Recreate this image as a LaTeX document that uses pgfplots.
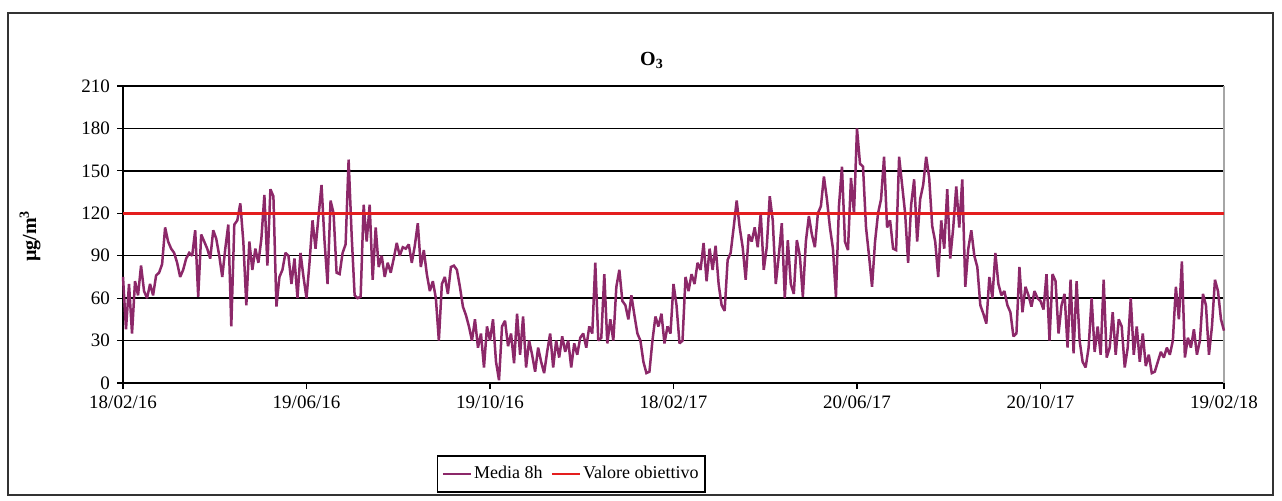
\documentclass[border=0pt]{standalone}
\usepackage{fontspec}
\setmainfont{Liberation Serif}
\usepackage{pgfplots}
\pgfplotsset{compat=1.18}

\definecolor{media}{RGB}{140,40,105}
\definecolor{obiettivo}{RGB}{228,30,30}

\begin{document}
\begin{tikzpicture}
% 1 px of the reference = 0.5pt
\useasboundingbox (0,0) rectangle (641pt,250pt);
\draw[black!80, line width=0.6pt] (4pt,2.5pt) rectangle (636.5pt,243.5pt);

\node[font=\fontsize{10}{12}\selectfont\bfseries] at (326pt,220pt) {O\textsubscript{3}};
\node[rotate=90, font=\fontsize{10}{12}\selectfont\bfseries] at (15pt,132pt) {µg/m\textsuperscript{3}};

\begin{axis}[
  at={(61.5pt,58.5pt)}, anchor=south west,
  scale only axis,
  width=550.5pt, height=148.5pt,
  xmin=0, xmax=732,
  ymin=0, ymax=210,
  ytick={0,30,...,210},
  xtick={0,122,244,366,488,610,732},
  xticklabels={18/02/16,19/06/16,19/10/16,18/02/17,20/06/17,20/10/17,19/02/18},
  axis x line*=bottom, axis y line*=left,
  axis line style={black, line width=0.8pt, -},
  tick align=outside,
  major tick length=3pt,
  tick style={black, line width=0.6pt},
  ymajorgrids,
  grid style={black, line width=0.7pt},
  tick label style={font=\fontsize{9.5}{11}\selectfont},
  /pgf/number format/assume math mode=true,
  clip=false,
  legend columns=2,
  legend style={at={(0.407,-0.306)}, anchor=center, draw=black, line width=0.9pt,
    font=\fontsize{9}{11}\selectfont, inner xsep=2pt, inner ysep=3pt,
    nodes={inner xsep=1pt},
    /tikz/every even column/.append style={column sep=3pt}},
  legend image code/.code={\draw[#1, line width=1.3pt] (0pt,0pt) -- (14pt,0pt);},
]
\draw[gray!70, line width=0.6pt] (rel axis cs:1,0) -- (rel axis cs:1,1);

\addplot[media, line width=1.25pt, line join=miter, miter limit=2] coordinates {
(0,75) (2,38) (4,70) (6,35) (8,72) (10,62) (12,83) (14,65) (16,60) (18,70)
(20,62) (22,76) (24,78) (26,84) (28,110) (30,100) (32,95) (34,92) (36,85) (38,75)
(40,80) (42,88) (44,92) (46,90) (48,108) (50,61) (52,105) (54,100) (56,95) (58,88)
(60,108) (62,102) (64,90) (66,75) (68,95) (70,112) (72,40) (74,112) (76,115) (78,127)
(80,100) (82,55) (84,100) (86,80) (88,95) (90,85) (92,102) (94,133) (96,83) (98,137)
(100,132) (102,54) (104,75) (106,80) (108,92) (110,90) (112,70) (114,88) (116,60) (118,92)
(120,75) (122,60) (124,85) (126,115) (128,95) (130,118) (132,140) (134,100) (136,70) (138,129)
(140,120) (142,78) (144,77) (146,92) (148,98) (150,158) (152,105) (154,62) (156,60) (158,61)
(160,126) (162,100) (164,126) (166,73) (168,110) (170,82) (172,90) (174,75) (176,85) (178,78)
(180,88) (182,99) (184,90) (186,96) (188,95) (190,98) (192,85) (194,97) (196,113) (198,82)
(200,94) (202,77) (204,65) (206,72) (208,60) (210,30) (212,70) (214,75) (216,63) (218,82)
(220,83) (222,80) (224,68) (226,54) (228,48) (230,40) (232,30) (234,45) (236,25) (238,35)
(240,11) (242,40) (244,30) (246,45) (248,15) (250,2) (252,40) (254,44) (256,26) (258,35)
(260,14) (262,49) (264,20) (266,47) (268,11) (270,30) (272,20) (274,8) (276,25) (278,15)
(280,7) (282,22) (284,35) (286,11) (288,30) (290,18) (292,33) (294,22) (296,30) (298,11)
(300,28) (302,20) (304,32) (306,35) (308,25) (310,40) (312,35) (314,85) (316,30) (318,32)
(320,77) (322,28) (324,45) (326,30) (328,68) (330,80) (332,58) (334,55) (336,45) (338,62)
(340,48) (342,35) (344,30) (346,15) (348,7) (350,8) (352,30) (354,47) (356,40) (358,49)
(360,28) (362,40) (364,35) (366,70) (368,55) (370,28) (372,30) (374,75) (376,65) (378,77)
(380,70) (382,85) (384,80) (386,99) (388,72) (390,95) (392,80) (394,97) (396,70) (398,55)
(400,51) (402,87) (404,92) (406,110) (408,129) (410,110) (412,96) (414,73) (416,105) (418,100)
(420,110) (422,96) (424,120) (426,80) (428,96) (430,132) (432,115) (434,70) (436,90) (438,113)
(440,60) (442,101) (444,70) (446,63) (448,101) (450,90) (452,61) (454,100) (456,118) (458,105)
(460,96) (462,120) (464,125) (466,146) (468,130) (470,110) (472,95) (474,61) (476,125) (478,153)
(480,100) (482,94) (484,145) (486,120) (488,180) (490,155) (492,153) (494,110) (496,90) (498,68)
(500,100) (502,120) (504,130) (506,160) (508,110) (510,115) (512,95) (514,94) (516,160) (518,140)
(520,120) (522,85) (524,126) (526,144) (528,100) (530,130) (532,140) (534,160) (536,145) (538,111)
(540,100) (542,75) (544,115) (546,95) (548,137) (550,88) (552,110) (554,139) (556,110) (558,144)
(560,68) (562,95) (564,108) (566,90) (568,82) (570,55) (572,49) (574,42) (576,75) (578,60)
(580,92) (582,70) (584,62) (586,65) (588,55) (590,50) (592,33) (594,35) (596,82) (598,50)
(600,68) (602,62) (604,54) (606,65) (608,60) (610,58) (612,52) (614,77) (616,30) (618,77)
(620,72) (622,35) (624,55) (626,63) (628,25) (630,73) (632,21) (634,72) (636,30) (638,15)
(640,11) (642,25) (644,60) (646,22) (648,40) (650,20) (652,73) (654,18) (656,25) (658,50)
(660,20) (662,45) (664,40) (666,11) (668,25) (670,60) (672,20) (674,40) (676,15) (678,35)
(680,12) (682,20) (684,7) (686,8) (688,15) (690,22) (692,18) (694,25) (696,20) (698,30)
(700,68) (702,45) (704,86) (706,18) (708,32) (710,25) (712,38) (714,20) (716,30) (718,63)
(720,55) (722,20) (724,40) (726,73) (728,65) (730,45) (732,37)
};
\addlegendentry{Media 8h}

\addplot[obiettivo, line width=1.5pt] coordinates {(0,120) (732,120)};
\addlegendentry{Valore obiettivo}
\end{axis}
\end{tikzpicture}
\end{document}
